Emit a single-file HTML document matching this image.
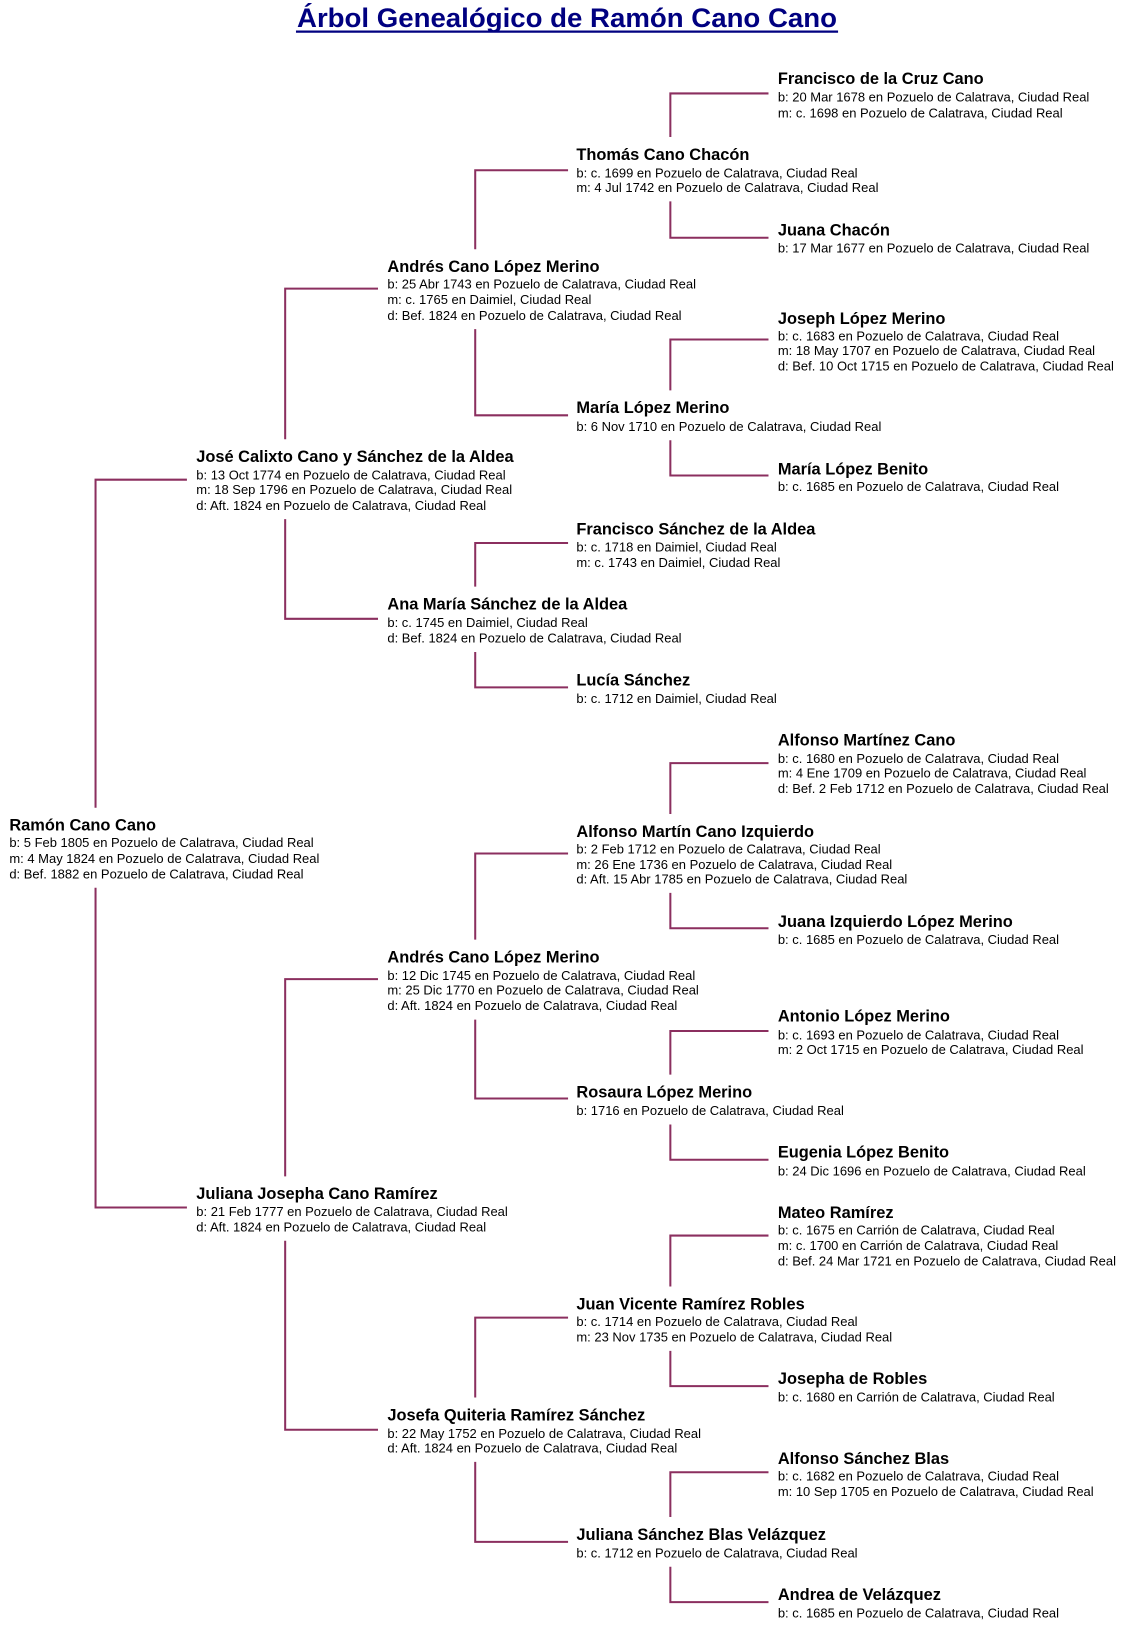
<!DOCTYPE html>
<html><head><meta charset="utf-8"><style>
html,body{margin:0;padding:0;background:#fff;width:1133px;height:1627px;overflow:hidden}
svg{display:block}
.n{font:bold 15.8px "Liberation Sans",Arial,sans-serif;fill:#000}
.d{font:12.5px "Liberation Sans",Arial,sans-serif;fill:#000}
.t{font:bold 26px "Liberation Sans",Arial,sans-serif;fill:#000080}
path{fill:none;stroke:#8b2f5f;stroke-width:1.95}
</style></head><body>
<svg width="1133" height="1627" viewBox="0 0 1091 1567" preserveAspectRatio="none">
<text class="t" x="286" y="26" textLength="520" lengthAdjust="spacingAndGlyphs">Árbol Genealógico de Ramón Cano Cano</text>
<line x1="285" y1="30.5" x2="807" y2="30.5" stroke="#000080" stroke-width="2.2"/>

<path d="M740 90H645.5V132M645.5 194V229H740"/>
<path d="M740 327H645.5V376M645.5 424V458H740"/>
<path d="M740 735H645.5V784M645.5 860V894H740"/>
<path d="M740 993H645.5V1035M645.5 1083V1117H740"/>
<path d="M740 1190H645.5V1239M645.5 1301V1335H740"/>
<path d="M740 1418H645.5V1461M645.5 1509V1543H740"/>
<path d="M547 164H457.6V240M457.6 317V400H547"/>
<path d="M547 523H457.6V565M457.6 628V662H547"/>
<path d="M547 822H457.6V905M457.6 982V1058H547"/>
<path d="M547 1269H457.6V1346M457.6 1408V1485H547"/>
<path d="M364 278H274.6V423M274.6 500V596H364"/>
<path d="M364 943H274.6V1133M274.6 1195V1377H364"/>
<path d="M180 462H92V778M92 855V1163H180"/>

<g>
<text class="n" x="749" y="81">Francisco de la Cruz Cano</text>
<text class="d" x="749" y="98">b: 20 Mar 1678 en Pozuelo de Calatrava, Ciudad Real</text>
<text class="d" x="749" y="113">m: c. 1698 en Pozuelo de Calatrava, Ciudad Real</text>

<text class="n" x="749" y="227">Juana Chacón</text>
<text class="d" x="749" y="243">b: 17 Mar 1677 en Pozuelo de Calatrava, Ciudad Real</text>

<text class="n" x="749" y="312">Joseph López Merino</text>
<text class="d" x="749" y="328">b: c. 1683 en Pozuelo de Calatrava, Ciudad Real</text>
<text class="d" x="749" y="342">m: 18 May 1707 en Pozuelo de Calatrava, Ciudad Real</text>
<text class="d" x="749" y="357">d: Bef. 10 Oct 1715 en Pozuelo de Calatrava, Ciudad Real</text>

<text class="n" x="749" y="457">María López Benito</text>
<text class="d" x="749" y="473">b: c. 1685 en Pozuelo de Calatrava, Ciudad Real</text>

<text class="n" x="749" y="718">Alfonso Martínez Cano</text>
<text class="d" x="749" y="735">b: c. 1680 en Pozuelo de Calatrava, Ciudad Real</text>
<text class="d" x="749" y="749">m: 4 Ene 1709 en Pozuelo de Calatrava, Ciudad Real</text>
<text class="d" x="749" y="764">d: Bef. 2 Feb 1712 en Pozuelo de Calatrava, Ciudad Real</text>

<text class="n" x="749" y="893">Juana Izquierdo López Merino</text>
<text class="d" x="749" y="909">b: c. 1685 en Pozuelo de Calatrava, Ciudad Real</text>

<text class="n" x="749" y="984">Antonio López Merino</text>
<text class="d" x="749" y="1001">b: c. 1693 en Pozuelo de Calatrava, Ciudad Real</text>
<text class="d" x="749" y="1015">m: 2 Oct 1715 en Pozuelo de Calatrava, Ciudad Real</text>

<text class="n" x="749" y="1115">Eugenia López Benito</text>
<text class="d" x="749" y="1132">b: 24 Dic 1696 en Pozuelo de Calatrava, Ciudad Real</text>

<text class="n" x="749" y="1173">Mateo Ramírez</text>
<text class="d" x="749" y="1189">b: c. 1675 en Carrión de Calatrava, Ciudad Real</text>
<text class="d" x="749" y="1204">m: c. 1700 en Carrión de Calatrava, Ciudad Real</text>
<text class="d" x="749" y="1219">d: Bef. 24 Mar 1721 en Pozuelo de Calatrava, Ciudad Real</text>

<text class="n" x="749" y="1333">Josepha de Robles</text>
<text class="d" x="749" y="1350">b: c. 1680 en Carrión de Calatrava, Ciudad Real</text>

<text class="n" x="749" y="1410">Alfonso Sánchez Blas</text>
<text class="d" x="749" y="1426">b: c. 1682 en Pozuelo de Calatrava, Ciudad Real</text>
<text class="d" x="749" y="1441">m: 10 Sep 1705 en Pozuelo de Calatrava, Ciudad Real</text>

<text class="n" x="749" y="1541">Andrea de Velázquez</text>
<text class="d" x="749" y="1558">b: c. 1685 en Pozuelo de Calatrava, Ciudad Real</text>
</g>

<g>
<text class="n" x="555" y="154">Thomás Cano Chacón</text>
<text class="d" x="555" y="171">b: c. 1699 en Pozuelo de Calatrava, Ciudad Real</text>
<text class="d" x="555" y="185">m: 4 Jul 1742 en Pozuelo de Calatrava, Ciudad Real</text>

<text class="n" x="555" y="398">María López Merino</text>
<text class="d" x="555" y="415">b: 6 Nov 1710 en Pozuelo de Calatrava, Ciudad Real</text>

<text class="n" x="555" y="515">Francisco Sánchez de la Aldea</text>
<text class="d" x="555" y="531">b: c. 1718 en Daimiel, Ciudad Real</text>
<text class="d" x="555" y="546">m: c. 1743 en Daimiel, Ciudad Real</text>

<text class="n" x="555" y="660">Lucía Sánchez</text>
<text class="d" x="555" y="677">b: c. 1712 en Daimiel, Ciudad Real</text>

<text class="n" x="555" y="806">Alfonso Martín Cano Izquierdo</text>
<text class="d" x="555" y="822">b: 2 Feb 1712 en Pozuelo de Calatrava, Ciudad Real</text>
<text class="d" x="555" y="837">m: 26 Ene 1736 en Pozuelo de Calatrava, Ciudad Real</text>
<text class="d" x="555" y="851">d: Aft. 15 Abr 1785 en Pozuelo de Calatrava, Ciudad Real</text>

<text class="n" x="555" y="1057">Rosaura López Merino</text>
<text class="d" x="555" y="1074">b: 1716 en Pozuelo de Calatrava, Ciudad Real</text>

<text class="n" x="555" y="1261">Juan Vicente Ramírez Robles</text>
<text class="d" x="555" y="1277">b: c. 1714 en Pozuelo de Calatrava, Ciudad Real</text>
<text class="d" x="555" y="1292">m: 23 Nov 1735 en Pozuelo de Calatrava, Ciudad Real</text>

<text class="n" x="555" y="1483">Juliana Sánchez Blas Velázquez</text>
<text class="d" x="555" y="1500">b: c. 1712 en Pozuelo de Calatrava, Ciudad Real</text>
</g>

<g>
<text class="n" x="373" y="262">Andrés Cano López Merino</text>
<text class="d" x="373" y="278">b: 25 Abr 1743 en Pozuelo de Calatrava, Ciudad Real</text>
<text class="d" x="373" y="293">m: c. 1765 en Daimiel, Ciudad Real</text>
<text class="d" x="373" y="308">d: Bef. 1824 en Pozuelo de Calatrava, Ciudad Real</text>

<text class="n" x="373" y="587">Ana María Sánchez de la Aldea</text>
<text class="d" x="373" y="604">b: c. 1745 en Daimiel, Ciudad Real</text>
<text class="d" x="373" y="619">d: Bef. 1824 en Pozuelo de Calatrava, Ciudad Real</text>

<text class="n" x="373" y="927">Andrés Cano López Merino</text>
<text class="d" x="373" y="944">b: 12 Dic 1745 en Pozuelo de Calatrava, Ciudad Real</text>
<text class="d" x="373" y="958">m: 25 Dic 1770 en Pozuelo de Calatrava, Ciudad Real</text>
<text class="d" x="373" y="973">d: Aft. 1824 en Pozuelo de Calatrava, Ciudad Real</text>

<text class="n" x="373" y="1368">Josefa Quiteria Ramírez Sánchez</text>
<text class="d" x="373" y="1385">b: 22 May 1752 en Pozuelo de Calatrava, Ciudad Real</text>
<text class="d" x="373" y="1399">d: Aft. 1824 en Pozuelo de Calatrava, Ciudad Real</text>
</g>

<g>
<text class="n" x="189" y="445">José Calixto Cano y Sánchez de la Aldea</text>
<text class="d" x="189" y="462">b: 13 Oct 1774 en Pozuelo de Calatrava, Ciudad Real</text>
<text class="d" x="189" y="476">m: 18 Sep 1796 en Pozuelo de Calatrava, Ciudad Real</text>
<text class="d" x="189" y="491">d: Aft. 1824 en Pozuelo de Calatrava, Ciudad Real</text>

<text class="n" x="189" y="1155">Juliana Josepha Cano Ramírez</text>
<text class="d" x="189" y="1171">b: 21 Feb 1777 en Pozuelo de Calatrava, Ciudad Real</text>
<text class="d" x="189" y="1186">d: Aft. 1824 en Pozuelo de Calatrava, Ciudad Real</text>
</g>

<g>
<text class="n" x="9" y="800">Ramón Cano Cano</text>
<text class="d" x="9" y="816">b: 5 Feb 1805 en Pozuelo de Calatrava, Ciudad Real</text>
<text class="d" x="9" y="831">m: 4 May 1824 en Pozuelo de Calatrava, Ciudad Real</text>
<text class="d" x="9" y="846">d: Bef. 1882 en Pozuelo de Calatrava, Ciudad Real</text>
</g>
</svg>
</body></html>
